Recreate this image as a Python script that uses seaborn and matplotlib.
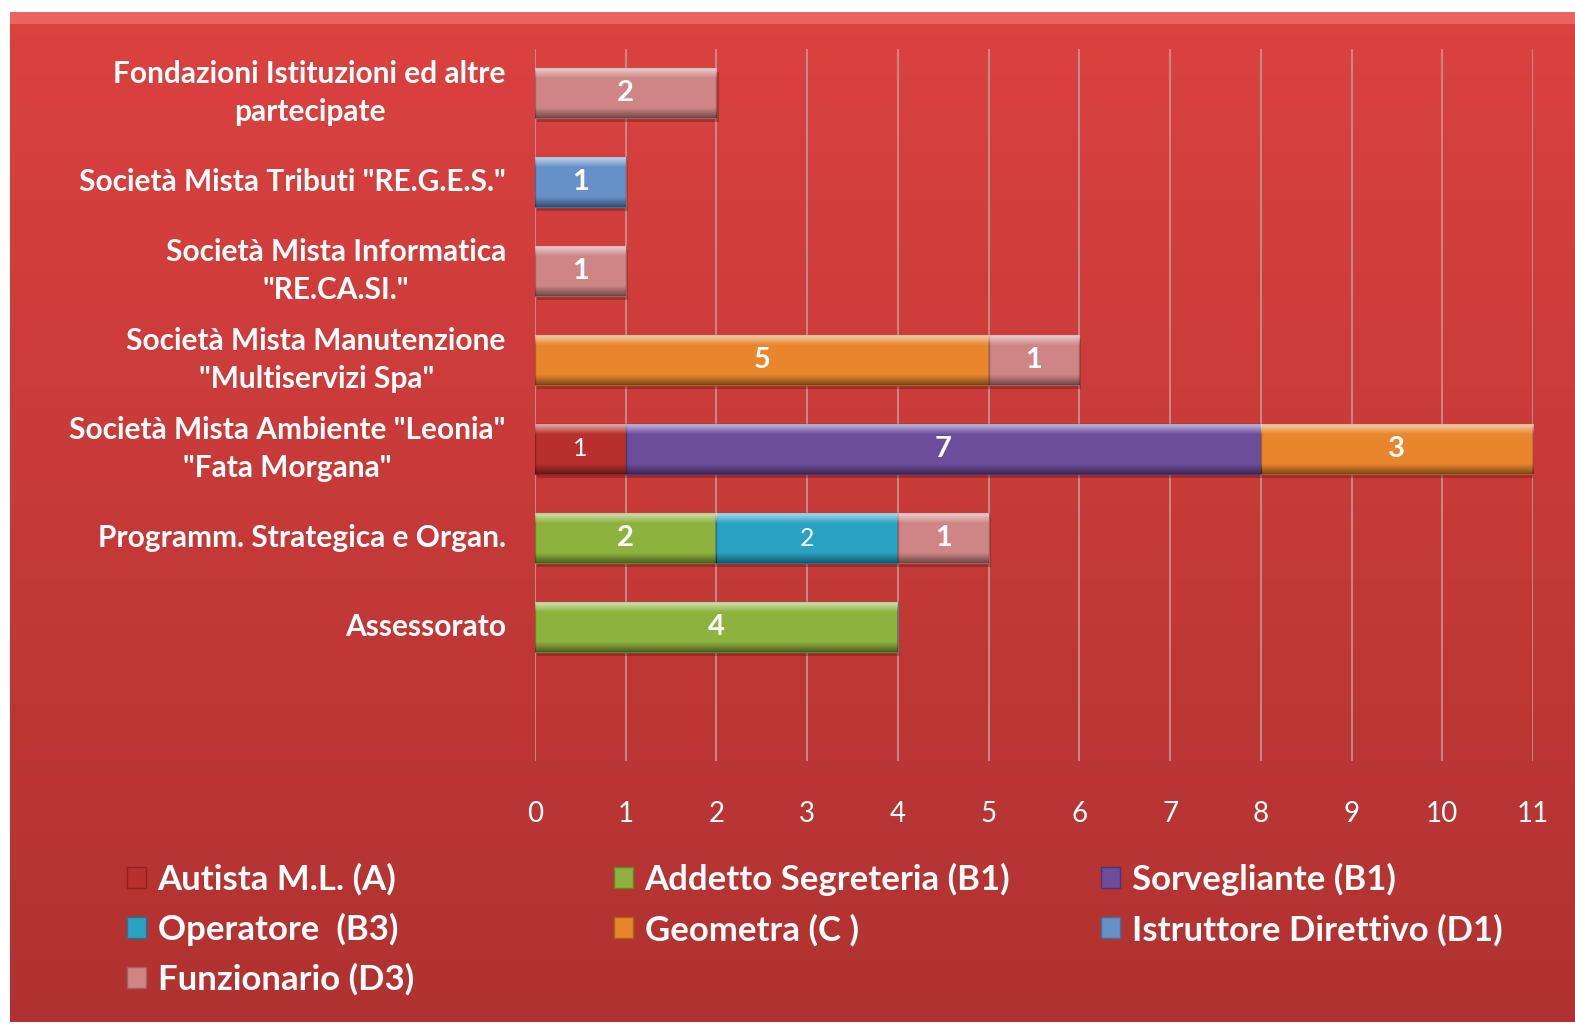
import numpy as np
import pandas as pd
import matplotlib
matplotlib.use("Agg")
import matplotlib.pyplot as plt
import matplotlib.patheffects as pe
import seaborn as sns
from matplotlib.patches import Patch

# ---------------- data ----------------
categories = [
    "Fondazioni Istituzioni ed altre\npartecipate",
    'Società Mista Tributi "RE.G.E.S."',
    'Società Mista Informatica\n"RE.CA.SI."',
    'Società Mista Manutenzione\n"Multiservizi Spa"',
    'Società Mista Ambiente "Leonia"\n"Fata Morgana"',
    "Programm. Strategica e Organ.",
    "Assessorato",
]
series_names = [
    "Autista M.L. (A)",
    "Addetto Segreteria (B1)",
    "Sorvegliante (B1)",
    "Operatore  (B3)",
    "Geometra (C )",
    "Istruttore Direttivo (D1)",
    "Funzionario (D3)",
]
autista = [0, 0, 0, 0, 1, 0, 0]
addetto = [0, 0, 0, 0, 0, 2, 4]
sorvegliante = [0, 0, 0, 0, 7, 0, 0]
operatore = [0, 0, 0, 0, 0, 2, 0]
geometra = [0, 0, 0, 5, 3, 0, 0]
istruttore = [0, 1, 0, 0, 0, 0, 0]
funzionario = [2, 0, 1, 1, 0, 1, 0]
xticks = list(range(0, 12))

series_values = [autista, addetto, sorvegliante, operatore, geometra, istruttore, funzionario]
colors = ["#B92F2E", "#8DB23E", "#6C4D9C", "#2AA2C3", "#E8852D", "#6690C8", "#CF8585"]
edge_colors = ["#8A2222", "#66832C", "#4C3670", "#1E7891", "#AE6020", "#4A6C98", "#9E6262"]
label_weights = ["normal", "bold", "bold", "normal", "bold", "bold", "bold"]

# ---------------- style ----------------
sns.set_style("white")
plt.rcParams["font.family"] = ["Lato", "DejaVu Sans"]

W, H = 1575, 1025
fig = plt.figure(figsize=(W / 100, H / 100), dpi=100)
fig.patch.set_facecolor("white")

# background panel with vertical gradient
bg = fig.add_axes([10 / W, 3 / H, 1 - 10 / W, 1 - 15 / H], zorder=-10)
n = 256
t = np.linspace(0, 1, n)[:, None]
top = np.array([219, 66, 64]) / 255
bot = np.array([176, 50, 48]) / 255
grad = top * (1 - t) + bot * t
grad[:3] = np.array([236, 100, 98]) / 255
img = np.repeat(grad[:, None, :], 2, axis=1)
bg.imshow(img, aspect="auto", extent=[0, 1, 0, 1])
bg.set_axis_off()

ax = fig.add_axes([535 / W, 1 - 760.5 / H, (1533 - 535) / W, (760.5 - 48.5) / H], zorder=1)
ax.set_facecolor("none")

left = np.zeros(len(categories))
for name, vals, col, ecol, wt in zip(series_names, series_values, colors, edge_colors, label_weights):
    df = pd.DataFrame({"cat": categories, "val": vals})
    sns.barplot(
        data=df, x="val", y="cat", order=categories, orient="y",
        color=col, saturation=1, left=left.copy(), width=0.56,
        errorbar=None, edgecolor=ecol, linewidth=1.0, ax=ax, zorder=3,
    )
    left += np.array(vals)

ax.set_xlim(0, 11)
ax.set_ylim(7.5, -0.5)

# bevel shading overlay on each bar (derived from the bar patches themselves)
shade = np.zeros((64, 2, 4))
tt = np.linspace(0, 1, 64)
alpha_w = np.clip(0.6 * (1 - tt / 0.2), 0, None)
alpha_k = np.clip(0.45 * (tt - 0.8) / 0.2, 0, None)
shade[:, :, :3] = np.where((alpha_w > 0)[:, None, None], 1.0, 0.0)
shade[:, :, 3] = (alpha_w + alpha_k)[:, None]
for cont in list(ax.containers):
    for p in cont.patches:
        if p.get_width() <= 0:
            continue
        p.set_path_effects([pe.SimplePatchShadow(offset=(1.5, -3), alpha=0.35, shadow_rgbFace="#5a1010"),
                            pe.Normal()])
        x0, y0 = p.get_x(), p.get_y()
        x1, y1 = x0 + p.get_width(), y0 + p.get_height()
        im = ax.imshow(shade, extent=[x0, x1, y1, y0], aspect="auto", zorder=4,
                       interpolation="bilinear")
        im.set_clip_path(p)

for cont, vals, wt in zip(ax.containers, series_values, label_weights):
    labels = [str(v) if v > 0 else "" for v in vals]
    ax.bar_label(cont, labels=labels, label_type="center", color="white",
                 fontsize=21 if wt == "bold" else 18, fontweight=wt, zorder=6)

ax.set_xlim(0, 11)
ax.set_ylim(7.5, -0.5)
ax.set_xticks(xticks)
ax.set_xlabel("")
ax.set_ylabel("")
ax.grid(axis="x", color="#C49090", linewidth=1.3, zorder=0)
ax.grid(axis="y", visible=False)
ax.set_axisbelow(True)
for s in ax.spines.values():
    s.set_visible(False)
ax.tick_params(axis="x", length=0, pad=29, labelsize=20, labelcolor="white")
ax.tick_params(axis="y", length=0, pad=21, labelsize=21.5, labelcolor="white")
for lbl in ax.get_xticklabels():
    lbl.set_fontweight("normal")
for lbl in ax.get_yticklabels():
    lbl.set_fontweight("bold")
    lbl.set_multialignment("center")
    lbl.set_linespacing(1.45)
    lbl.set_verticalalignment("center")

# legend: three columns, row-major order as in the reference
handles = [Patch(facecolor=c, edgecolor=e, linewidth=1) for c, e in zip(colors, edge_colors)]
col_groups = [[0, 3, 6], [1, 4], [2, 5]]
col_x = [127 / W, 614 / W, 1101 / W]
for xg, grp in zip(col_x, col_groups):
    leg = fig.legend(
        [handles[i] for i in grp], [series_names[i] for i in grp],
        loc="upper left", bbox_to_anchor=(xg, 1 - 863 / H), frameon=False,
        handlelength=0.55, handleheight=0.55, handletextpad=0.33,
        labelspacing=0.5, borderaxespad=0, borderpad=0,
        prop={"family": ["Lato", "DejaVu Sans"], "weight": "bold", "size": 25},
    )
    for txt in leg.get_texts():
        txt.set_color("white")

fig.savefig("out.png", dpi=100, facecolor=fig.get_facecolor())
